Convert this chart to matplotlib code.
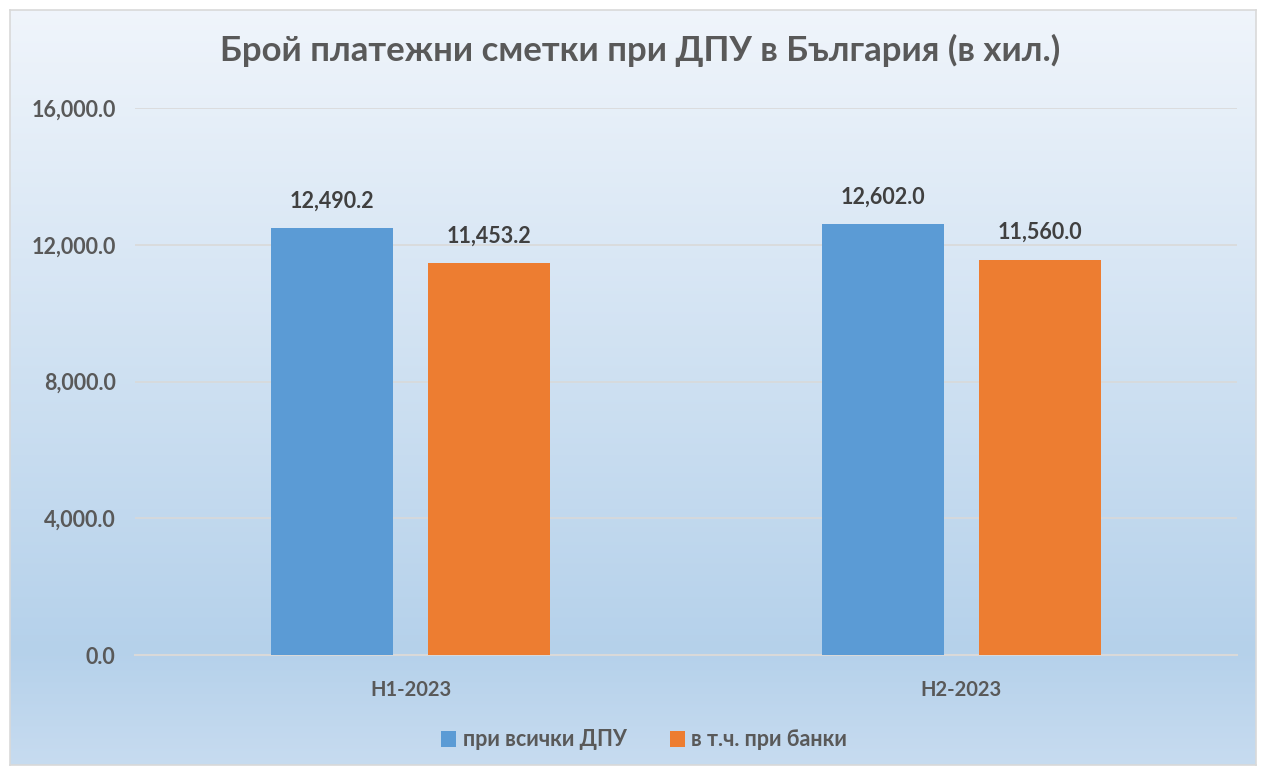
import matplotlib
matplotlib.use("Agg")
import matplotlib.pyplot as plt
import numpy as np

# data
categories = ["H1-2023", "H2-2023"]
all_psp = [12490.2, 12602.0]        # при всички ДПУ
banks = [11453.2, 11560.0]          # в т.ч. при банки
series_names = ["при всички ДПУ", "в т.ч. при банки"]
yticks = [0, 4000, 8000, 12000, 16000]

plt.rcParams['font.family'] = ['Lato', 'DejaVu Sans']
plt.rcParams['font.weight'] = 'bold'

W, H = 1263, 771
fig = plt.figure(figsize=(W / 100, H / 100), dpi=100)
fig.patch.set_facecolor("white")

# gradient background with thin border
bg = fig.add_axes([10 / W, 1 - 765 / H, 1246 / W, 755 / H], zorder=0)
grad = np.linspace(0, 1, 256)
top = np.array([0.94, 0.96, 0.985])
mid = np.array([0.71, 0.82, 0.92])
bot = np.array([0.78, 0.86, 0.94])
cols = []
for g in grad:
    if g < 0.85:
        t = g / 0.85
        cols.append(top * (1 - t) + mid * t)
    else:
        t = (g - 0.85) / 0.15
        cols.append(mid * (1 - t) + bot * t)
img = np.array(cols)[:, None, :]
bg.imshow(img, aspect='auto', extent=[0, 1, 0, 1], origin='upper')
bg.set_xlim(0, 1)
bg.set_ylim(0, 1)
bg.set_xticks([])
bg.set_yticks([])
for s in bg.spines.values():
    s.set_color("#D9D9D9")
    s.set_linewidth(1.2)

# main axes
ax = fig.add_axes([135 / W, 1 - 655 / H, (1237 - 135) / W, (655 - 108) / H], zorder=1)
ax.patch.set_alpha(0)

x = np.arange(len(categories))
width = 0.223
off = 0.1425
b1 = ax.bar(x - off, all_psp, width, color="#5B9BD5", label=series_names[0], zorder=3)
b2 = ax.bar(x + off, banks, width, color="#ED7D31", label=series_names[1], zorder=3)

for bars in (b1, b2):
    for r in bars:
        v = r.get_height()
        ax.annotate(f"{v:,.1f}", (r.get_x() + r.get_width() / 2, v),
                    xytext=(0, 12), textcoords="offset points", ha="center", va="bottom",
                    fontsize=15.5, fontweight="bold", color="#404040")

ax.set_xlim(-0.5, 1.5)
ax.set_ylim(0, 16000)
ax.set_yticks(yticks)
ax.set_yticklabels([f"{v:,.1f}" for v in yticks], fontsize=15.5, fontweight="bold", color="#595959")
ax.set_xticks(x)
ax.set_xticklabels(categories, fontsize=14.5, fontweight="bold", color="#595959")
ax.tick_params(axis="both", length=0)
ax.tick_params(axis="y", pad=14)
ax.tick_params(axis="x", pad=18)
ax.grid(axis="y", color="#D9D9D9", linewidth=1.2, zorder=0)
for s in ["top", "right", "left"]:
    ax.spines[s].set_visible(False)
ax.spines["bottom"].set_color("#D9D9D9")
ax.spines["bottom"].set_linewidth(1.5)

fig.text(640 / W, 1 - 50 / H, "Брой платежни сметки при ДПУ в България (в хил.)",
         ha="center", va="center", fontsize=25, fontweight="bold", color="#595959")

fig.legend(handles=[b1, b2], loc="center", bbox_to_anchor=(644 / W, 1 - 740 / H),
           ncol=2, frameon=False, fontsize=15.5, handlelength=0.7, handleheight=0.7,
           handletextpad=0.3, columnspacing=2.0, labelcolor="#595959")

fig.savefig("out.png", dpi=100)
